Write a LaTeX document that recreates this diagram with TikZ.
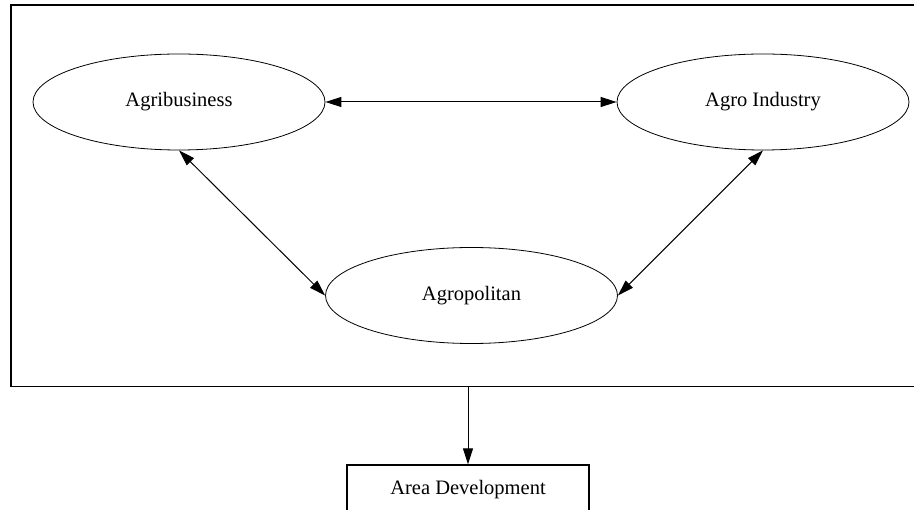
\documentclass[tikz,border=0pt]{standalone}
\usepackage{fontspec}
\setmainfont{Liberation Serif}
\usetikzlibrary{shapes.geometric,arrows.meta}
\begin{document}
\begin{tikzpicture}[x=1pt,y=-1pt,
  ell/.style={ellipse,draw,line width=0.8pt,minimum width=292pt,minimum height=96pt,inner sep=0pt,font=\fontsize{20.5}{24}\selectfont},
  boxnode/.style={rectangle,draw,line width=1.3pt,minimum width=242pt,minimum height=50pt,inner sep=0pt,font=\fontsize{20.5}{24}\selectfont},
  conn/.style={line width=1pt,{Triangle[length=16pt,width=10pt]}-{Triangle[length=16pt,width=10pt]}},
  oneway/.style={line width=1pt,-{Triangle[length=16pt,width=10pt]}}]
\useasboundingbox (0,0) rectangle (914,510);
\clip (0,0) rectangle (914,510);
\node[draw,line width=1.5pt,rectangle,minimum width=920pt,minimum height=381.5pt,inner sep=0pt,anchor=north west] (frame) at (10,4.5) {};
\node[ell] (agb) at (179,102) {Agribusiness};
\node[ell] (agi) at (763,102) {Agro Industry};
\node[ell] (agp) at (471.5,295.5) {Agropolitan};
\node[boxnode] (area) at (468,490) {Area Development};
\coordinate (fb) at (468,386);
\draw[conn] (agb.east) -- (agi.west);
\draw[conn] (agb.south) -- (agp.west);
\draw[conn] (agi.south) -- (agp.east);
\draw[oneway] (fb) -- (area.north);
\end{tikzpicture}
\end{document}
